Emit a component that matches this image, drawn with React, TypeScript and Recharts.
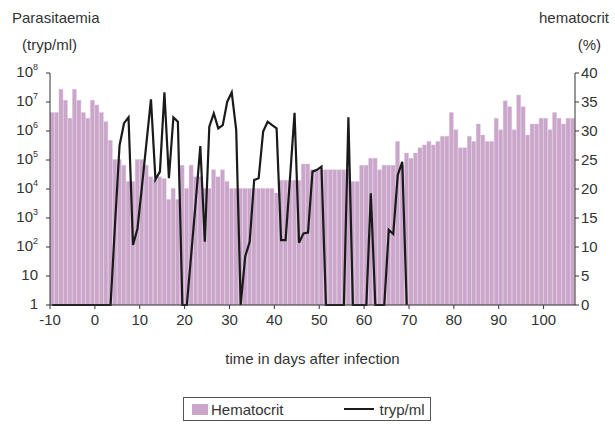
import { Bar, ComposedChart, Line, XAxis, YAxis } from "recharts";

const FIRST_DAY = -10;

// hematocrit (%), one bar per day from day -10 to day 106
const hematocrit = [
  33.2, 33.2, 37.2, 35.3, 32.2, 37.2, 35.3, 33.2, 32.2, 35.3,
  34.5, 33.2, 31.6, 28.4, 25.1, 25.1, 24.1, 21.3, 21.3, 25.1,
  25.1, 24.1, 22.1, 21.6, 22.1, 21.8, 18.2, 20.1, 18.2, 24.1,
  20.1, 24.1, 22.1, 22.1, 20.1, 20.1, 23.3, 22.1, 23.3, 21.3,
  20.1, 20.1, 20.1, 20.1, 20.1, 20.1, 20.1, 20.1, 20.1, 20.1,
  19.3, 21.5, 21.5, 21.5, 21.5, 21.5, 24.3, 24.3, 23.3, 23.3,
  23.3, 23.3, 23.3, 23.3, 23.3, 23.3, 23.3, 21.3, 21.3, 24.1,
  24.1, 25.3, 25.3, 23.3, 24.1, 24.1, 24.1, 28.2, 24.1, 26.2,
  25.3, 26.2, 27.1, 27.6, 28.2, 27.6, 28.2, 29.1, 29.1, 33.2,
  30.2, 27.1, 27.1, 29.1, 28.2, 31.2, 29.3, 28.2, 28.2, 32.2,
  30.2, 35.2, 34.2, 30.2, 36.2, 34.2, 29.3, 31.2, 31.2, 32.2,
  32.2, 30.2, 33.2, 32.2, 31.2, 32.2, 32.2,
];

// parasitaemia as log10(tryp/ml), day -10 to day 69
const trypLog10 = [
  0, 0, 0, 0, 0, 0, 0, 0, 0, 0,
  0, 0, 0, 0, 2.8, 5.5, 6.27, 6.47, 2.07, 2.64,
  4.1, 5.6, 7.09, 4.33, 4.6, 7.33, 4.37, 6.47, 6.32, 0,
  0, 1.8, 3.6, 5.48, 2.18, 6.15, 6.61, 6.09, 6.2, 7.01,
  7.33, 6.03, 0, 1.67, 2.18, 4.31, 4.37, 5.98, 6.32, 6.2,
  6.09, 2.24, 2.24, 4.4, 6.63, 2.15, 2.47, 2.5, 4.6, 4.66,
  4.77, 0, 0, 0, 0, 0, 6.47, 0, 0, 0,
  0, 3.85, 0, 0, 0, 2.59, 2.45, 4.48, 4.94, 0,
];

const xTicks = [-10, 0, 10, 20, 30, 40, 50, 60, 70, 80, 90, 100];
const leftTicks = [0, 1, 2, 3, 4, 5, 6, 7, 8];
const rightTicks = [0, 5, 10, 15, 20, 25, 30, 35, 40];

const data = hematocrit.map((h, i) => ({
  day: FIRST_DAY + i + 0.5,
  hematocrit: h,
  tryp: i < trypLog10.length ? trypLog10[i] : null,
}));

const FONT = "'Liberation Sans', Arial, sans-serif";
const INK = "#333";
const BAR = "#caa6ca";

function LogTick({ x, y, payload }: any) {
  const v = payload.value;
  return (
    <text x={x - 6} y={y} dy={4} textAnchor="end" fill={INK} fontSize={15} fontFamily={FONT}>
      {v === 0 ? "1" : v === 1 ? "10" : (
        <>
          10<tspan dy={-7} fontSize={9}>{v}</tspan>
        </>
      )}
    </text>
  );
}

export default function App() {
  return (
    <div style={{ position: "absolute", left: 0, top: 0, width: 615, height: 427, background: "#fff", fontFamily: FONT, color: INK }}>
      <ComposedChart
        width={615}
        height={427}
        data={data}
        margin={{ top: 73, right: 5, bottom: 92, left: 5 }}
        barCategoryGap={0}
        barGap={0}
      >
        <XAxis
          dataKey="day"
          type="number"
          domain={[-10, 107]}
          ticks={xTicks}
          allowDataOverflow
          height={30}
          stroke={INK}
          tickSize={4}
          tick={{ fill: INK, fontSize: 15, fontFamily: FONT, dy: 3 }}
        />
        <YAxis
          yAxisId="left"
          orientation="left"
          width={45}
          domain={[0, 8]}
          ticks={leftTicks}
          stroke={INK}
          tickSize={4}
          tick={<LogTick />}
        />
        <YAxis
          yAxisId="right"
          orientation="right"
          width={35}
          domain={[0, 40]}
          ticks={rightTicks}
          stroke={INK}
          tickSize={4}
          tick={{ fill: INK, fontSize: 15, fontFamily: FONT }}
        />
        <Bar yAxisId="right" dataKey="hematocrit" fill={BAR} stroke="#d8c0d8" strokeWidth={0.4} isAnimationActive={false} />
        <Line
          yAxisId="left"
          dataKey="tryp"
          type="linear"
          stroke="#1a1a1a"
          strokeWidth={2.2}
          dot={false}
          isAnimationActive={false}
        />
      </ComposedChart>

      <div style={{ position: "absolute", left: 12, top: 9, fontSize: 15 }}>Parasitaemia</div>
      <div style={{ position: "absolute", left: 22, top: 36, fontSize: 15 }}>(tryp/ml)</div>
      <div style={{ position: "absolute", right: 6, top: 9, fontSize: 15 }}>hematocrit</div>
      <div style={{ position: "absolute", right: 14, top: 36, fontSize: 15 }}>(%)</div>
      <div style={{ position: "absolute", left: 0, width: 625, top: 350, textAlign: "center", fontSize: 15 }}>
        time in days after infection
      </div>

      <div
        style={{
          position: "absolute",
          left: 183,
          top: 397,
          width: 248,
          height: 24,
          border: "1px solid #555",
          boxSizing: "border-box",
          display: "flex",
          alignItems: "center",
          fontSize: 15,
        }}
      >
        <span style={{ display: "inline-block", width: 16, height: 11, background: BAR, marginLeft: 8, marginRight: 3 }} />
        <span>Hematocrit</span>
        <span style={{ display: "inline-block", width: 30, height: 2, background: "#1a1a1a", marginLeft: 60, marginRight: 6 }} />
        <span>tryp/ml</span>
      </div>
    </div>
  );
}
